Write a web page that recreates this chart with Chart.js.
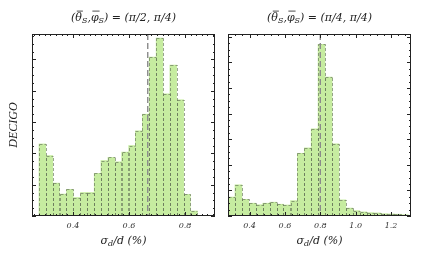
<!DOCTYPE html>
<html>
<head>
<meta charset="utf-8">
<script src="https://cdn.jsdelivr.net/npm/chart.js@4.4.0/dist/chart.umd.min.js"></script>
<style>
  html, body { margin: 0; padding: 0; background: #fff; }
  #wrap { position: relative; width: 436px; height: 262px; }
  .panel { position: absolute; top: 0; width: 218px; height: 262px; }
</style>
</head>
<body>
<div id="wrap">
  <div class="panel" style="left:0"><canvas id="chartLeft" width="218" height="262"></canvas></div>
  <div class="panel" style="left:218px"><canvas id="chartRight" width="218" height="262"></canvas></div>
</div>
<script>
// left panel (pi/2, pi/4) - bin centres and counts
const leftBins = [0.291, 0.316, 0.340, 0.365, 0.389, 0.414, 0.439, 0.463, 0.488, 0.512, 0.537, 0.561,
  0.586, 0.611, 0.635, 0.660, 0.684, 0.709, 0.733, 0.758, 0.783, 0.807, 0.832];
const leftCounts = [230, 193, 105, 70, 85, 59, 75, 75, 136, 177, 187, 173,
  204, 225, 272, 325, 507, 568, 390, 482, 371, 69, 16];
const leftTickLabels = [0.4, 0.6, 0.8];
const leftMean = 0.667;

// right panel (pi/4, pi/4)
const rightBins = [0.298, 0.337, 0.376, 0.415, 0.454, 0.494, 0.533, 0.572, 0.611, 0.651, 0.690, 0.729, 0.768,
  0.807, 0.847, 0.886, 0.925, 0.964, 1.003, 1.043, 1.082, 1.121, 1.160, 1.199, 1.239, 1.278];
const rightCounts = [74, 122, 65, 50, 44, 50, 54, 46, 43, 60, 245, 266, 341,
  671, 543, 282, 63, 31, 21, 16, 13, 12, 9, 8, 7, 5];
const rightTickLabels = [0.4, 0.6, 0.8, 1.0, 1.2];
const rightMean = 0.80;

const SERIF = '"Liberation Serif", "DejaVu Serif", serif';
const WIDE_SERIF = '"DejaVu Serif", serif';

// draws a list of text pieces centred on cx, with subscripts / overlines
function drawRich(ctx, pieces, cx, y, size) {
	const fontMain = 'italic ' + size + 'px ' + WIDE_SERIF;
	const fontSub = 'italic ' + Math.round(size * 0.72) + 'px ' + WIDE_SERIF;
	let total = 0;
	pieces.forEach(p => {
		ctx.font = p.sub ? fontSub : fontMain;
		p.w = ctx.measureText(p.t).width;
		total += p.w;
	});
	let x = cx - total / 2;
	ctx.fillStyle = '#222';
	ctx.textBaseline = 'alphabetic';
	ctx.textAlign = 'left';
	pieces.forEach(p => {
		ctx.font = p.sub ? fontSub : fontMain;
		ctx.fillText(p.t, x, p.sub ? y + 2 : y);
		if (p.over) {
			ctx.strokeStyle = '#222';
			ctx.lineWidth = 0.8;
			ctx.beginPath();
			ctx.moveTo(x + 1.5, y - size * 0.9);
			ctx.lineTo(x + p.w + 1, y - size * 0.9);
			ctx.stroke();
		}
		x += p.w;
	});
}

const histPlugin = {
	id: 'histDecor',
	afterDatasetsDraw(chart, args, o) {
		const ctx = chart.ctx;
		const a = chart.chartArea;
		const xs = chart.scales.x;
		const ys = chart.scales.y;

		// dashed bar edges, every edge drawn upward so shared edges line up
		ctx.save();
		ctx.beginPath();
		ctx.rect(a.left, a.top, a.right - a.left, a.bottom - a.top);
		ctx.clip();
		ctx.strokeStyle = 'rgba(95,110,85,0.7)';
		ctx.lineWidth = 0.9;
		ctx.setLineDash([3, 2]);
		chart.getDatasetMeta(0).data.forEach(bar => {
			const p = bar.getProps(['x', 'y', 'base', 'width'], true);
			const l = Math.round(p.x - p.width / 2) + 0.5;
			const r = Math.round(p.x + p.width / 2) + 0.5;
			const t = Math.round(p.y) + 0.5;
			ctx.beginPath();
			ctx.moveTo(l, p.base);
			ctx.lineTo(l, t);
			ctx.moveTo(r, p.base);
			ctx.lineTo(r, t);
			ctx.moveTo(l, t);
			ctx.lineTo(r, t);
			ctx.stroke();
		});

		// mean line
		const mx = xs.getPixelForValue(o.mean);
		ctx.strokeStyle = '#8a8a8a';
		ctx.lineWidth = 1.4;
		ctx.setLineDash([6, 3]);
		ctx.beginPath();
		ctx.moveTo(mx, a.top);
		ctx.lineTo(mx, a.bottom);
		ctx.stroke();
		ctx.restore();

		// frame
		ctx.save();
		ctx.strokeStyle = '#222';
		ctx.lineWidth = 1;
		ctx.strokeRect(a.left + 0.5, a.top + 0.5, a.right - a.left - 1, a.bottom - a.top - 1);

		// inward ticks
		ctx.beginPath();
		for (let v = Math.ceil(xs.min / o.xMinor) * o.xMinor; v <= xs.max; v += o.xMinor) {
			const px = Math.round(xs.getPixelForValue(v)) + 0.5;
			const major = Math.abs(v / o.xMajor - Math.round(v / o.xMajor)) < 0.01;
			const len = major ? 4 : 2;
			ctx.moveTo(px, a.bottom);
			ctx.lineTo(px, a.bottom - len);
			ctx.moveTo(px, a.top);
			ctx.lineTo(px, a.top + len);
		}
		for (let v = 0; v <= ys.max; v += 25) {
			const py = Math.round(ys.getPixelForValue(v)) + 0.5;
			const len = v % 100 === 0 ? 4 : 2;
			ctx.moveTo(a.left, py);
			ctx.lineTo(a.left + len, py);
			ctx.moveTo(a.right, py);
			ctx.lineTo(a.right - len, py);
		}
		ctx.stroke();

		// title and axis label
		const cx = (a.left + a.right) / 2;
		drawRich(ctx, [
			{t: '('}, {t: 'θ', over: true}, {t: 'S', sub: true}, {t: ','},
			{t: 'φ', over: true}, {t: 'S', sub: true}, {t: ') = (' + o.angle + ', π/4)'}
		], cx, 21, 11);
		drawRich(ctx, [{t: 'σ'}, {t: 'd', sub: true}, {t: '/d (%)'}], cx, 244, 11);

		if (o.ylabel) {
			ctx.translate(14, (a.top + a.bottom) / 2);
			ctx.rotate(-Math.PI / 2);
			ctx.font = 'italic 12px ' + SERIF;
			ctx.fillStyle = '#1a1a1a';
			ctx.textAlign = 'center';
			ctx.textBaseline = 'middle';
			ctx.fillText(o.ylabel, 0, 0);
		}
		ctx.restore();
	}
};

function makePanel(id, bins, counts, tickLabels, pad, xmin, xmax, ymax, decor) {
	const ctx = document.getElementById(id).getContext('2d');
	return new Chart(ctx, {
		type: 'bar',
		data: {
			datasets: [{
				data: bins.map((b, i) => ({x: b, y: counts[i]})),
				backgroundColor: 'rgb(198,236,160)',
				borderWidth: 0,
				barPercentage: 1,
				categoryPercentage: 1
			}]
		},
		options: {
			responsive: false,
			animation: false,
			layout: {padding: pad},
			scales: {
				x: {
					type: 'linear',
					min: xmin,
					max: xmax,
					offset: false,
					grid: {display: false, drawTicks: false},
					border: {display: false},
					afterBuildTicks: s => { s.ticks = tickLabels.map(v => ({value: v})); },
					afterFit: s => { s.height = 46; },
					ticks: {
						padding: 5,
						color: '#333',
						font: {family: WIDE_SERIF, size: 8, style: 'italic'},
						callback: v => v.toFixed(1)
					}
				},
				y: {
					display: false,
					min: 0,
					max: ymax
				}
			},
			plugins: {
				legend: {display: false},
				tooltip: {enabled: false},
				histDecor: decor
			}
		},
		plugins: [histPlugin]
	});
}

makePanel('chartLeft', leftBins, leftCounts, leftTickLabels,
	{left: 32, right: 3, top: 34, bottom: 0}, 0.254, 0.907, 581,
	{mean: leftMean, xMinor: 0.02, xMajor: 0.2, angle: 'π/2', ylabel: 'DECIGO'});

makePanel('chartRight', rightBins, rightCounts, rightTickLabels,
	{left: 10, right: 25, top: 34, bottom: 0}, 0.278, 1.313, 711,
	{mean: rightMean, xMinor: 0.04, xMajor: 0.2, angle: 'π/4', ylabel: null});
</script>
</body>
</html>
